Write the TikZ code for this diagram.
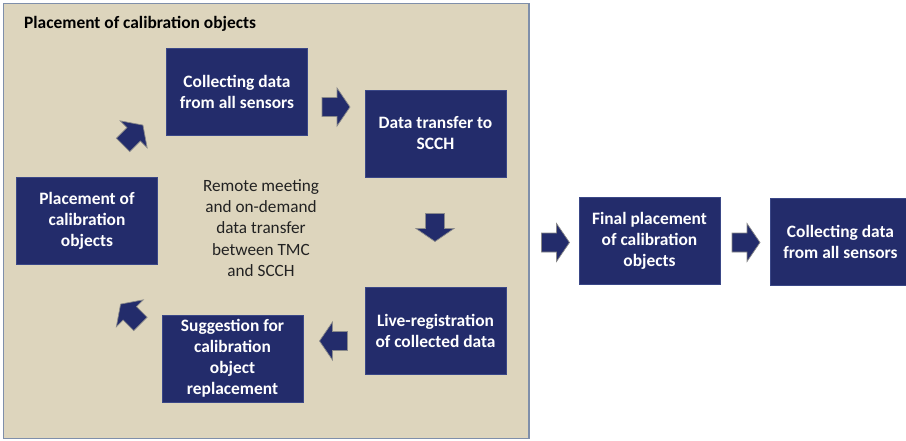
\documentclass[tikz,border=0pt]{standalone}
\usepackage{fontspec}
\setmainfont{Carlito}
\definecolor{navy}{HTML}{232C6B}
\definecolor{navyedge}{HTML}{3A4787}
\definecolor{panelfill}{HTML}{DDD5BD}
\definecolor{paneledge}{HTML}{7F8FAA}
\definecolor{arrowedge}{HTML}{8A8A8A}
\definecolor{textdark}{HTML}{222222}
\tikzset{
  stepbox/.style={rectangle, fill=navy, draw=navyedge, line width=0.8pt,
    minimum width=141pt, minimum height=87pt, inner sep=2pt,
    text=white, align=center, font=\bfseries\fontsize{17.4}{21}\selectfont},
  arrowstyle/.style={fill=navy, draw=arrowedge, line width=0.7pt, line join=miter},
  blockarrow/.pic={\filldraw[arrowstyle] (-14,-9.5) -- (1,-9.5) -- (1,-19) -- (14,0) -- (1,19) -- (1,9.5) -- (-14,9.5) -- cycle;}
}
\begin{document}
\begin{tikzpicture}[x=1pt,y=-1pt]
\useasboundingbox (0,0) rectangle (906,440);
\clip (0,0) rectangle (906,440);
\fill[white] (0,0) rectangle (906,440);
% panel
\filldraw[fill=panelfill, draw=paneledge, line width=1.4pt] (3.5,3.5) rectangle (529,438.5);
\node[anchor=base west, font=\bfseries\fontsize{17.4}{21}\selectfont, text=black, inner sep=0pt] (title) at (24,28) {Placement of calibration objects};
% boxes
\node[stepbox] (coll) at (237,91.5) {Collecting data\\from all sensors};
\node[stepbox] (dtr) at (435.5,133.5) {Data transfer to\\SCCH};
\node[stepbox] (place) at (87,220.5) {Placement of\\calibration\\objects};
\node[stepbox] (live) at (435.5,330.5) {Live-registration\\of collected data};
\node[stepbox] (sugg) at (232.5,358.5) {Suggestion for\\calibration\\object\\replacement};
\node[stepbox] (final) at (649.5,240.5) {Final placement\\of calibration\\objects};
\node[stepbox] (coll2) at (840.5,241.5) {Collecting data\\from all sensors};
% centre text
\node[align=center, text=textdark, font=\fontsize{17.2}{21.2}\selectfont] (remote) at (261,228) {Remote meeting\\and on-demand\\data transfer\\between TMC\\and SCCH};
% block arrows
\pic at (336,107) {blockarrow};
\pic[rotate=-90] at (435,227.5) {blockarrow};
\pic[rotate=180] at (333.5,341) {blockarrow};
\pic[rotate=135] at (130.5,314) {blockarrow};
\pic[rotate=45] at (133,135) {blockarrow};
\pic at (555.5,242.5) {blockarrow};
\pic at (746,242.5) {blockarrow};
\end{tikzpicture}
\end{document}
